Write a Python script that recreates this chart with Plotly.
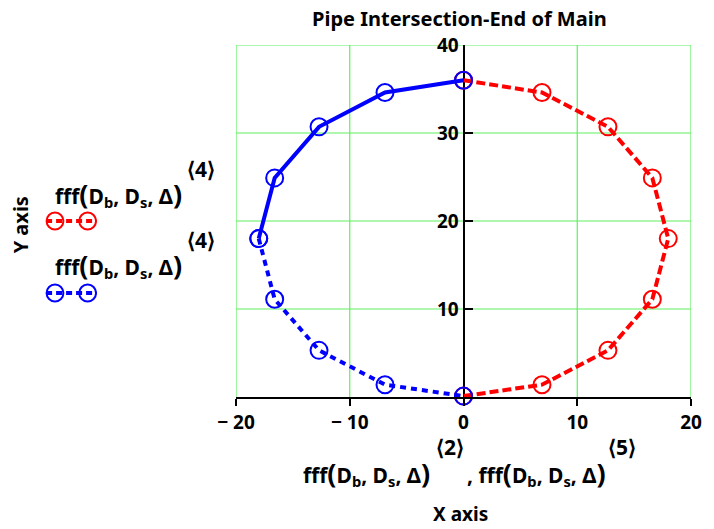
import plotly.graph_objects as go

# ---- data ----
red_x = [0, 6.9, 12.7, 16.6, 18.0, 16.6, 12.7, 6.9, 0]
red_y = [36.0, 34.6, 30.7, 24.9, 18.0, 11.1, 5.3, 1.4, 0.1]

blue_upper_x = [0, -6.9, -12.7, -16.6, -18.0]
blue_upper_y = [36.0, 34.6, 30.7, 24.9, 18.0]
blue_lower_x = [-18.0, -16.6, -12.7, -6.9, 0]
blue_lower_y = [18.0, 11.1, 5.3, 1.4, 0.1]

x_ticks = [-20, -10, 0, 10, 20]
x_tick_text = ["\u2212 20", "\u2212 10", "0", "10", "20"]
y_ticks = [10, 20, 30, 40]
x_range = [-20, 20]
y_range = [0, 40]

title_text = "Pipe Intersection-End of Main"
BIGL = "<span style='font-size:27px'>(</span>"
BIGR = "<span style='font-size:27px'>)</span>"
legend_main = "fff" + BIGL + "D<sub>b</sub>, D<sub>s</sub>, \u0394" + BIGR

W, H = 714, 529
L, R, T, B = 236, 18, 45, 132
PW, PH = W - L - R, H - T - B

FONT = "Noto Sans"
RED = "#ff0000"
BLUE = "#0000ff"
GRID = "#5ef05e"


def fx(px):
    return (px - L) / PW


def fy(py):
    return (H - B - py) / PH


fig = go.Figure()

marker_common = dict(symbol="circle-open", size=17, line=dict(width=2))

fig.add_trace(go.Scatter(
    x=red_x, y=red_y, mode="lines+markers",
    line=dict(color=RED, width=4, dash="9px,4px"),
    marker=dict(color=RED, **marker_common), showlegend=False, cliponaxis=False))
fig.add_trace(go.Scatter(
    x=blue_upper_x, y=blue_upper_y, mode="lines+markers",
    line=dict(color=BLUE, width=4),
    marker=dict(color=BLUE, **marker_common), showlegend=False, cliponaxis=False))
fig.add_trace(go.Scatter(
    x=blue_lower_x, y=blue_lower_y, mode="lines+markers",
    line=dict(color=BLUE, width=4, dash="6px,5px"),
    marker=dict(color=BLUE, **marker_common), showlegend=False, cliponaxis=False))

fig.update_layout(
    width=W, height=H,
    margin=dict(l=L, r=R, t=T, b=B, pad=0),
    paper_bgcolor="white", plot_bgcolor="white",
    font=dict(family=FONT, color="black"),
    showlegend=False,
    xaxis=dict(
        range=x_range, tickvals=x_ticks, ticktext=x_tick_text,
        showgrid=False, zeroline=False,
        showline=True, linecolor="black", linewidth=2,
        ticks="outside", ticklen=7, tickwidth=2, tickcolor="black",
        tickfont=dict(family=FONT, size=19, color="black", weight="bold"),
        layer="above traces", fixedrange=True,
    ),
    yaxis=dict(
        range=y_range, tickvals=y_ticks,
        anchor="free", position=0.5,
        showgrid=False, zeroline=False,
        showline=True, linecolor="black", linewidth=2,
        ticks="inside", ticklen=8, tickwidth=2, tickcolor="black",
        tickfont=dict(family=FONT, size=19, color="black", weight="bold"),
        layer="below traces", fixedrange=True,
    ),
)

# green grid lines at the tick positions
for v in x_ticks:
    if v == 0:
        continue
    fig.add_shape(type="line", xref="x", yref="y", x0=v, x1=v,
                  y0=y_range[0], y1=y_range[1],
                  line=dict(color=GRID, width=1.2), layer="below")
for v in y_ticks:
    for xa, xb in [(x_range[0], 0), (0, x_range[1])]:
        fig.add_shape(type="line", xref="x", yref="y", x0=xa, x1=xb,
                      y0=v, y1=v, line=dict(color=GRID, width=1.2), layer="below")

annotations = []


def txt(text, x, y, size, xanchor="center", yanchor="middle", angle=0):
    annotations.append(dict(
        text=text, x=fx(x), y=fy(y), xref="paper", yref="paper",
        xanchor=xanchor, yanchor=yanchor, showarrow=False, textangle=angle,
        font=dict(family=FONT, size=size, color="black", weight="bold")))


txt(title_text, 462, 18, 20)
txt("Y axis", 18, 225, 20, angle=-90)
txt("X axis", 463, 514, 19)

SUP = 21
# legend texts
txt(legend_main, 183, 193, 21, xanchor="right")
txt("\u27e84\u27e9", 184, 169, SUP, xanchor="left")
txt(legend_main, 183, 264, 21, xanchor="right")
txt("\u27e84\u27e9", 184, 240, SUP, xanchor="left")

# x axis title expression
txt(legend_main, 434, 472, 21, xanchor="right")
txt("\u27e82\u27e9", 436, 447, SUP, xanchor="left")
txt(", " + legend_main, 612, 472, 21, xanchor="right")
txt("\u27e85\u27e9", 610, 447, SUP, xanchor="left")

fig.update_layout(annotations=annotations)

# legend swatches
for color, yy in [(RED, 221), (BLUE, 293)]:
    fig.add_shape(type="line", xref="paper", yref="paper",
                  x0=fx(44), x1=fx(95), y0=fy(yy), y1=fy(yy),
                  line=dict(color=color, width=4, dash="6px,4px"))
    for cx in (53, 86):
        r = 8.5
        fig.add_shape(type="circle", xref="paper", yref="paper",
                      x0=fx(cx - r), x1=fx(cx + r), y0=fy(yy + r), y1=fy(yy - r),
                      line=dict(color=color, width=2))

fig.write_html("out.html")
